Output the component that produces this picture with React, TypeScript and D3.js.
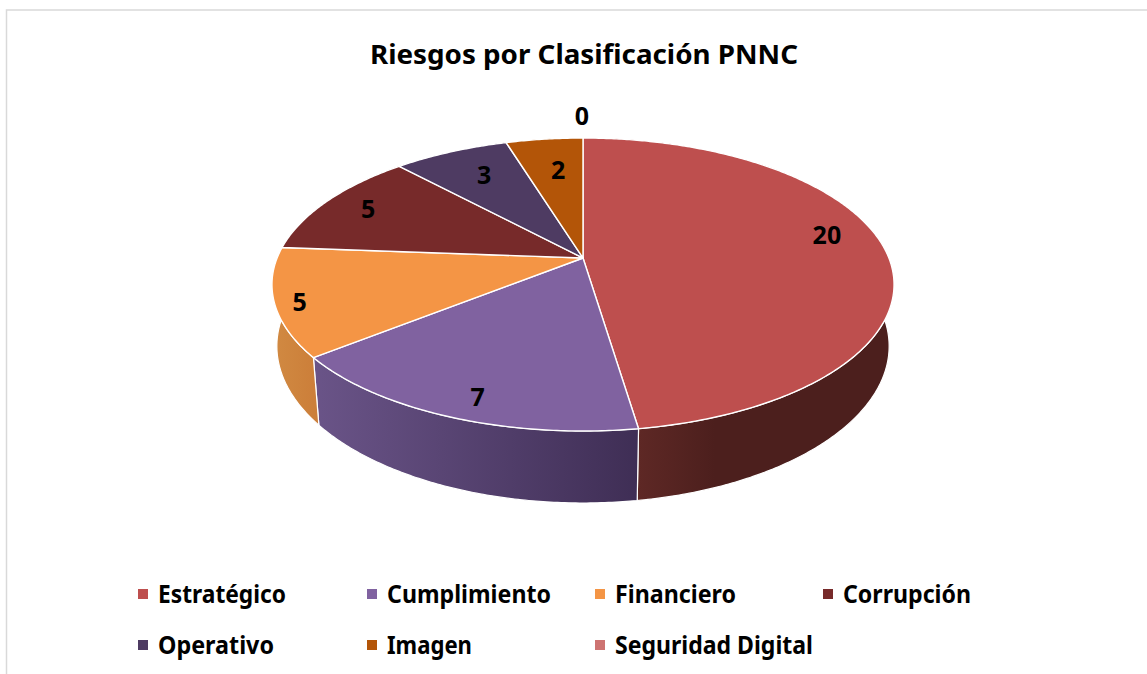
import { useLayoutEffect, useRef } from 'react'
import * as d3 from 'd3'

const categories = ['Estratégico', 'Cumplimiento', 'Financiero', 'Corrupción', 'Operativo', 'Imagen', 'Seguridad Digital']
const values = [20, 7, 5, 5, 3, 2, 0]
const colors = ['#be4f4e', '#8062a0', '#f49545', '#772a2a', '#4e3b62', '#b35508', '#cd7371']
const sideFrom = ['#5e2825', '#6a5488', '#d18a42', '#5a2020', '#3c2d4c', '#8a4106', '#a05a58']
const sideTo = ['#4c1f1d', '#3f2e55', '#cc7f3a', '#5a2020', '#3c2d4c', '#8a4106', '#a05a58']

const title = 'Riesgos por Clasificación PNNC'
const font = '"Noto Sans", "Open Sans", sans-serif'

const W = 1147
const H = 674

// perspective of the disc, apex at (cx, cy)
const cx = 583
const cy = 258
const B = 305.9
const A = 141.7
const K = 0.181
const labelR = 0.8
const labelNudge = [[2.5, -14.6], [-2, 17], [-39, 9], [-7.5, -2.7], [10, 4], [7, 10], [-1, -43]]

const legendCols = [138, 367, 595, 823]
const legendRows = [594, 645]
const legendWidths = [128, 164, 121, 128, 116, 85, 198]

function topPoint(a: number, r = 1): [number, number] {
  const u = r * Math.sin(a)
  const v = r * Math.cos(a)
  const w = 1 + K * v
  return [cx + (B * u) / w, cy - (A * v) / w]
}

function basePoint(a: number): [number, number] {
  const [x, y] = topPoint(a)
  const shrink = 0.986 + 0.01 * Math.cos(a)
  return [cx + (x - cx) * shrink, cy + 61.6 + (y - cy) * 1.06]
}

function sampleAngles(a0: number, a1: number) {
  const n = Math.max(2, Math.ceil((a1 - a0) / 0.01))
  return d3.range(n + 1).map((i) => a0 + ((a1 - a0) * i) / n)
}

export default function App() {
  const ref = useRef<SVGSVGElement>(null)

  useLayoutEffect(() => {
    if (!ref.current) return
    const svg = d3.select(ref.current)
    svg.selectAll('*').remove()

    svg.append('rect').attr('width', W).attr('height', H).attr('fill', '#ffffff')
    svg
      .append('path')
      .attr('d', d3.line()([[6.5, H], [6.5, 10], [W, 10]]))
      .attr('fill', 'none')
      .attr('stroke', '#d9d9d9')
      .attr('stroke-width', 1.5)

    svg
      .append('text')
      .attr('x', 370)
      .attr('y', 63.5)
      .attr('font-family', font)
      .attr('font-size', 27.5)
      .attr('font-weight', 700)
      .attr('textLength', 428)
      .attr('lengthAdjust', 'spacingAndGlyphs')
      .attr('fill', '#000000')
      .text(title)

    const pie = d3.pie<number>().sort(null).startAngle(0).endAngle(2 * Math.PI)
    const arcs = pie(values)
    const line = d3.line()

    const defs = svg.append('defs')
    arcs.forEach((d, i) => {
      // shade runs across the part of the wall that faces the viewer
      const front = sampleAngles(d.startAngle, d.endAngle).filter((a) => Math.cos(a) < 0.2)
      const xs = d3.extent(front, (a) => topPoint(a)[0]) as [number, number]
      const g = defs
        .append('linearGradient')
        .attr('id', `side-${i}`)
        .attr('gradientUnits', 'userSpaceOnUse')
        .attr('x1', xs[0] ?? cx)
        .attr('x2', xs[1] ?? cx + 1)
        .attr('y1', 0)
        .attr('y2', 0)
      g.append('stop').attr('offset', 0).attr('stop-color', sideFrom[i])
      g.append('stop').attr('offset', i === 0 ? 0.3 : 1).attr('stop-color', sideTo[i])
    })

    // side walls first, the top face hides the part that falls behind it
    arcs.forEach((d, i) => {
      if (d.value === 0) return
      const angles = sampleAngles(d.startAngle, d.endAngle)
      const pts = [...angles.map((a) => topPoint(a)), ...angles.slice().reverse().map((a) => basePoint(a))]
      svg
        .append('path')
        .attr('d', line(pts) + 'Z')
        .attr('fill', `url(#side-${i})`)
        .attr('stroke', '#ffffff')
        .attr('stroke-width', 1.2)
        .attr('stroke-linejoin', 'round')
    })

    arcs.forEach((d, i) => {
      if (d.value === 0) return
      const pts = [[cx, cy] as [number, number], ...sampleAngles(d.startAngle, d.endAngle).map((a) => topPoint(a))]
      svg
        .append('path')
        .attr('d', line(pts) + 'Z')
        .attr('fill', colors[i])
        .attr('stroke', '#ffffff')
        .attr('stroke-width', 1.4)
        .attr('stroke-linejoin', 'round')
    })

    arcs.forEach((d, i) => {
      const [x, y] = topPoint((d.startAngle + d.endAngle) / 2, labelR)
      svg
        .append('text')
        .attr('x', x + labelNudge[i][0])
        .attr('y', y + labelNudge[i][1])
        .attr('dy', '0.36em')
        .attr('text-anchor', 'middle')
        .attr('font-family', font)
        .attr('font-size', 25)
        .attr('font-weight', 700)
        .attr('fill', '#000000')
        .text(values[i])
    })

    categories.forEach((name, i) => {
      const col = i % legendCols.length
      const row = Math.floor(i / legendCols.length)
      svg
        .append('rect')
        .attr('x', legendCols[col])
        .attr('y', legendRows[row] - 5)
        .attr('width', 10)
        .attr('height', 10)
        .attr('fill', colors[i])
      svg
        .append('text')
        .attr('x', legendCols[col] + 20)
        .attr('y', legendRows[row] + 8.5)
        .attr('font-family', font)
        .attr('font-size', 25)
        .attr('font-weight', 700)
        .attr('textLength', legendWidths[i])
        .attr('lengthAdjust', 'spacingAndGlyphs')
        .attr('fill', '#000000')
        .text(name)
    })
  }, [])

  return <svg ref={ref} width={W} height={H} style={{ position: 'absolute', left: 0, top: 0, display: 'block' }} />
}
